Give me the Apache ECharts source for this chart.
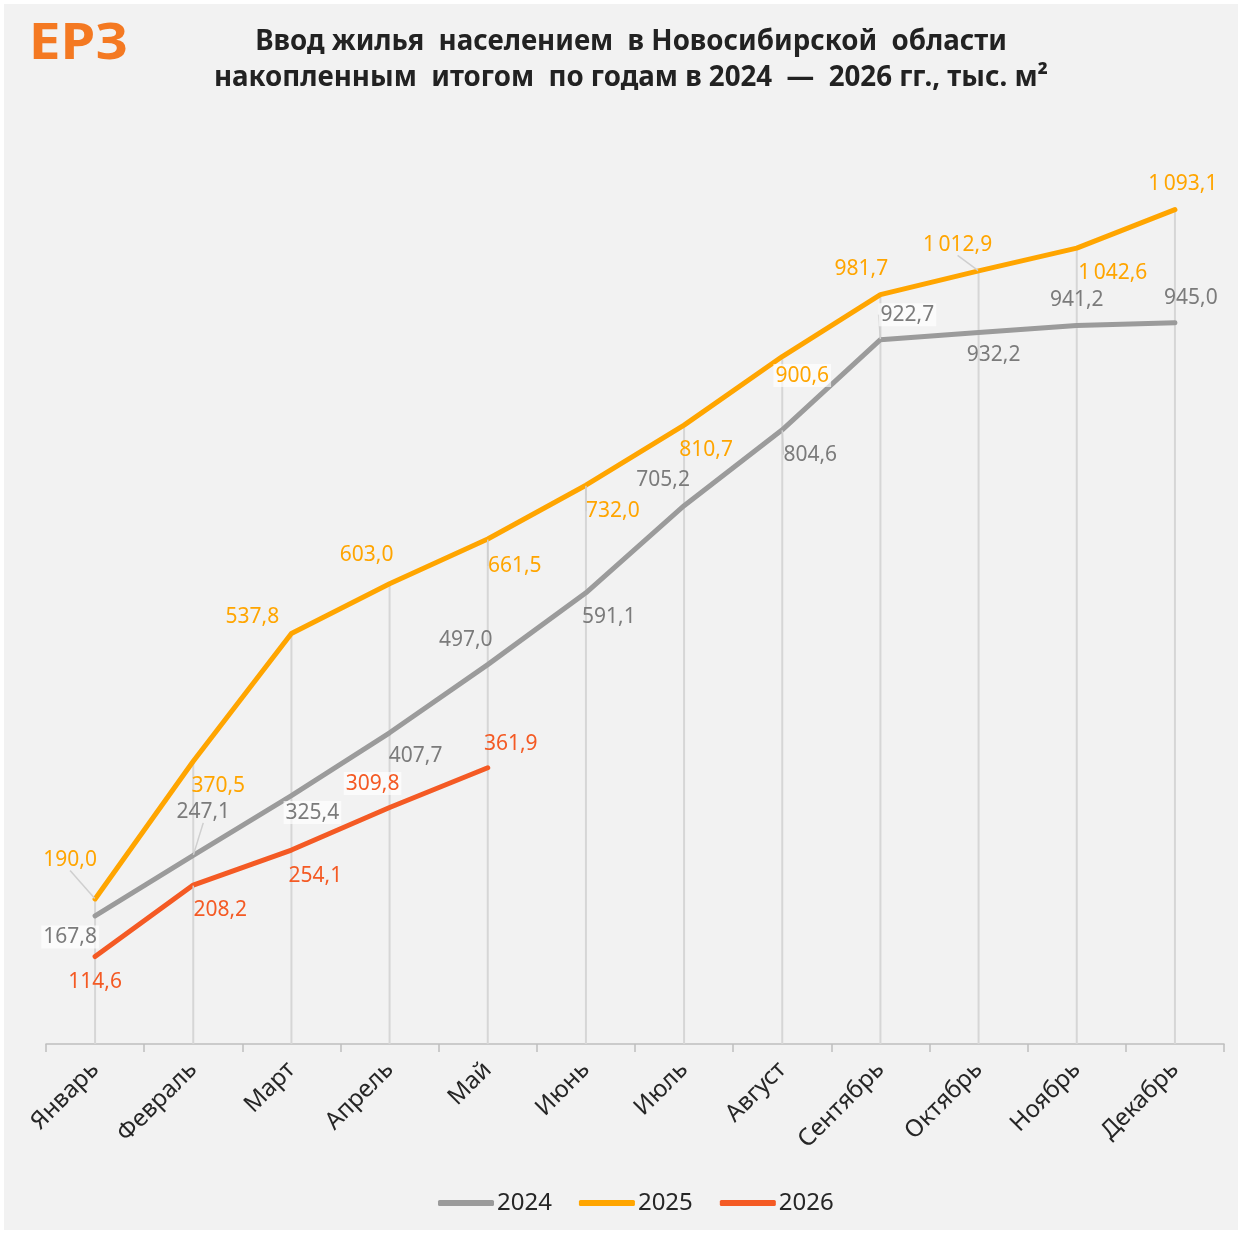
<!DOCTYPE html>
<html><head><meta charset="utf-8">
<script src="https://cdn.jsdelivr.net/npm/echarts@6/dist/echarts.min.js"></script>
<style>html,body{margin:0;padding:0;background:#fff;} #c{position:absolute;left:4px;top:4px;width:1234px;height:1226px;}</style>
</head><body><div id="c"></div><script>
const categories = ['Январь','Февраль','Март','Апрель','Май','Июнь','Июль','Август','Сентябрь','Октябрь','Ноябрь','Декабрь'];
const seriesNames = ['2024','2025','2026'];
const values2024 = [167.8, 247.1, 325.4, 407.7, 497.0, 591.1, 705.2, 804.6, 922.7, 932.2, 941.2, 945.0];
const values2025 = [190.0, 370.5, 537.8, 603.0, 661.5, 732.0, 810.7, 900.6, 981.7, 1012.9, 1042.6, 1093.1];
const values2026 = [114.6, 208.2, 254.1, 309.8, 361.9];

// label placement (pixels relative to point)
const off2024 = [[-25,21],[10,-43],[21,17],[26,23],[-22,-25],[23,24],[-21,-26],[28,25],[27,-25],[15,23],[0,-26],[16,-25]];
const off2025 = [[-25,-39],[25,25],[-39,-16],[-23,-29],[27,27],[27,26],[22,25],[20,19],[-19,-26],[-21,-26],[36,25],[8,-26]];
const off2026 = [[0,25],[27,25],[24,26],[-17,-24],[23,-24]];
const guide2024 = [false,true,false,false,false,false,false,true,true,false,false,false];
const guide2025 = [true,false,false,false,true,true,false,false,false,true,false,false];
const guide2026 = [false,true,false,false,false];
const box2024 = [true,false,true,false,false,false,false,false,true,false,false,false];
const box2025 = [false,false,false,false,false,false,false,true,false,false,false,false];
const box2026 = [false,false,false,true,false];

const colors = ['#9b9b9b','#ffa500','#f45a24'];
const labelColors = ['#7b7b7b','#ffa500','#f45a24'];

const maxVals = categories.map((c,i)=>Math.max(values2024[i] ?? 0, values2025[i] ?? 0, values2026[i] ?? 0));

function fmt(v){
  const s = v.toFixed(1).replace('.', ',');
  const parts = s.split(',');
  let ip = parts[0];
  if (ip.length > 3) ip = ip.slice(0, ip.length-3) + '\u2009' + ip.slice(ip.length-3);
  return ip + ',' + parts[1];
}

function mkData(vals, guides, boxes){
  return vals.map((v,i)=>({
    value: v,
    labelLine: {show: guides[i]},
    label: boxes[i] ? {backgroundColor:'rgba(255,255,255,0.65)', padding:[1,2]} : {}
  }));
}

function mkSeries(idx, vals, offs, guides, boxes){
  return {
    name: seriesNames[idx], type:'line', data: mkData(vals, guides, boxes),
    symbol:'circle', symbolSize:1, showSymbol:true,
    itemStyle:{color:colors[idx]},
    lineStyle:{color:colors[idx], width:5, cap:'round', join:'round'},
    z: 3+idx,
    label:{show:true, position:'inside', color:labelColors[idx], fontFamily:'Noto Sans', fontSize:21,
      formatter:p=>fmt(p.value)},
    labelLine:{show:false, lineStyle:{color:'#cfcfcf', width:1.5}, smooth:false, length2:0},
    labelLayout: function(p){ const o = offs[p.dataIndex]; return {dx:o[0], dy:o[1]}; },
    emphasis:{disabled:true}, animation:false
  };
}

const chart = echarts.init(document.getElementById('c'));
chart.setOption({
  backgroundColor:'#f2f2f2',
  animation:false,
  grid:{left:42, right:14, top:124, bottom:186},
  xAxis:{type:'category', data:categories, boundaryGap:true,
    axisLine:{lineStyle:{color:'#bfbfbf', width:1.5}},
    axisTick:{show:true, length:8, lineStyle:{color:'#bfbfbf', width:1.5}},
    axisLabel:{rotate:45, interval:0, color:'#262626', fontFamily:'Noto Sans', fontSize:24, margin:22}},
  yAxis:{type:'value', min:0, max:1200, show:false, splitLine:{show:false}},
  legend:{data:seriesNames, left:429, top:1182, itemWidth:56, itemHeight:6, itemGap:27,
    icon:'roundRect',
    textStyle:{fontFamily:'Noto Sans', fontSize:24, color:'#262626', padding:[0,0,0,-2]}},
  graphic:[
    {type:'text', x:25, y:16, scaleX:1.12, style:{text:'ЕРЗ', fontFamily:'Noto Sans', fontWeight:'bold', fontSize:50, fill:'#f47922'}},
    {type:'text', x:627, y:20, style:{text:'Ввод жилья  населением  в Новосибирской  области\nнакопленным  итогом  по годам в 2024  —  2026 гг., тыс. м²',
      textAlign:'center', fontFamily:'Noto Sans', fontWeight:'bold', fontSize:27.7, fill:'#222', lineHeight:36}}
  ],
  series:[
    {name:'drop', type:'bar', data:maxVals, barWidth:2, itemStyle:{color:'#d6d6d6'}, z:1, silent:true, animation:false, legendHoverLink:false},
    mkSeries(0, values2024, off2024, guide2024, box2024),
    mkSeries(1, values2025, off2025, guide2025, box2025),
    mkSeries(2, values2026, off2026, guide2026, box2026)
  ]
});
</script></body></html>
